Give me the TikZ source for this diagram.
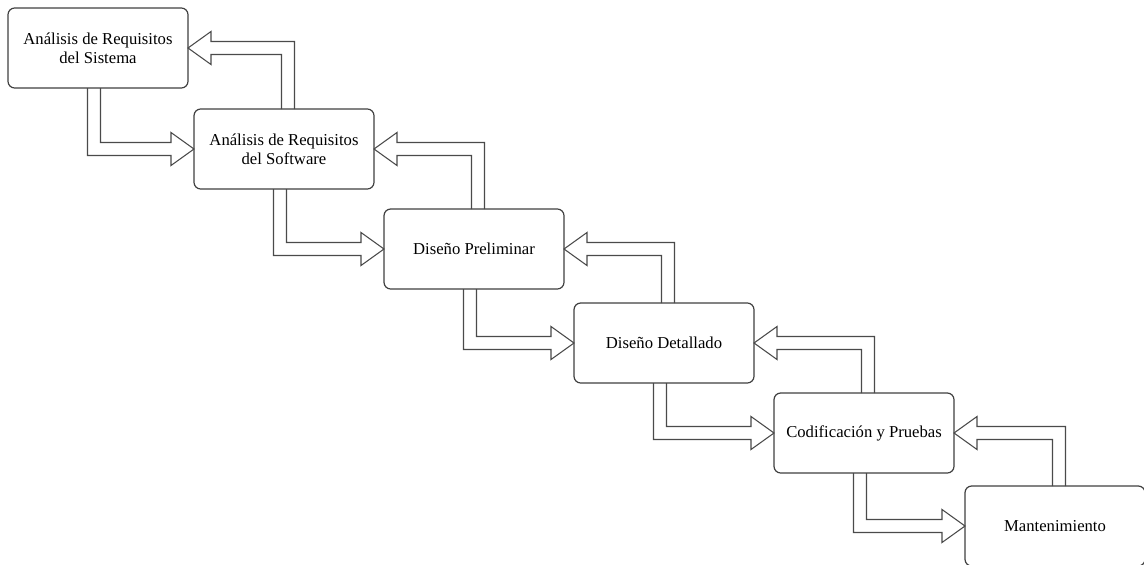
\documentclass[tikz,border=0pt]{standalone}
\usepackage{fontspec}
\setmainfont{Liberation Serif}
\usepackage{xcolor}
\usetikzlibrary{calc}
\definecolor{edge}{HTML}{404040}
\definecolor{shaft}{HTML}{4A4A4A}

\begin{document}
\begin{tikzpicture}[
  x=0.75pt,y=-0.75pt,
  box/.style={draw=edge,line width=0.9pt,rounded corners=5pt,fill=white,anchor=north west,
    minimum width=135pt,minimum height=60pt,outer sep=0pt,align=center,
    font=\fontsize{12.5}{14.5}\selectfont},
  hollow/.style={draw=shaft,line width=0.8pt,line join=miter}
]
\useasboundingbox (0,0) rectangle (1144,564);
\node[box] (sis)  at (8,8)     {Análisis de Requisitos\\del Sistema};
\node[box] (soft) at (194,109) {Análisis de Requisitos\\del Software};
\node[box] (prel) at (384,209) {Diseño Preliminar};
\node[box] (det)  at (574,303) {Diseño Detallado};
\node[box] (cod)  at (774,393) {Codificación y Pruebas};
\node[box] (mant) at (965,486) {Mantenimiento};
% forward arrows
\foreach \a/\b in {sis/soft,soft/prel,prel/det,det/cod,cod/mant}{
  \draw[hollow] ($(\a.south)+(-10.5,0)$) |- ($(\b.west)+(-23,6.5)$) -- ++(0,10)
    -- (\b.west) -- ++(-23,-16.5) -- ++(0,10) -| ($(\a.south)+(2.5,0)$);
}
% backward arrows
\foreach \a/\b in {sis/soft,soft/prel,prel/det,det/cod,cod/mant}{
  \draw[hollow] ($(\b.north)+(-2.5,0)$) |- ($(\a.east)+(23,6.5)$) -- ++(0,10)
    -- (\a.east) -- ++(23,-16.5) -- ++(0,10) -| ($(\b.north)+(10.5,0)$);
}
\end{tikzpicture}
\end{document}
